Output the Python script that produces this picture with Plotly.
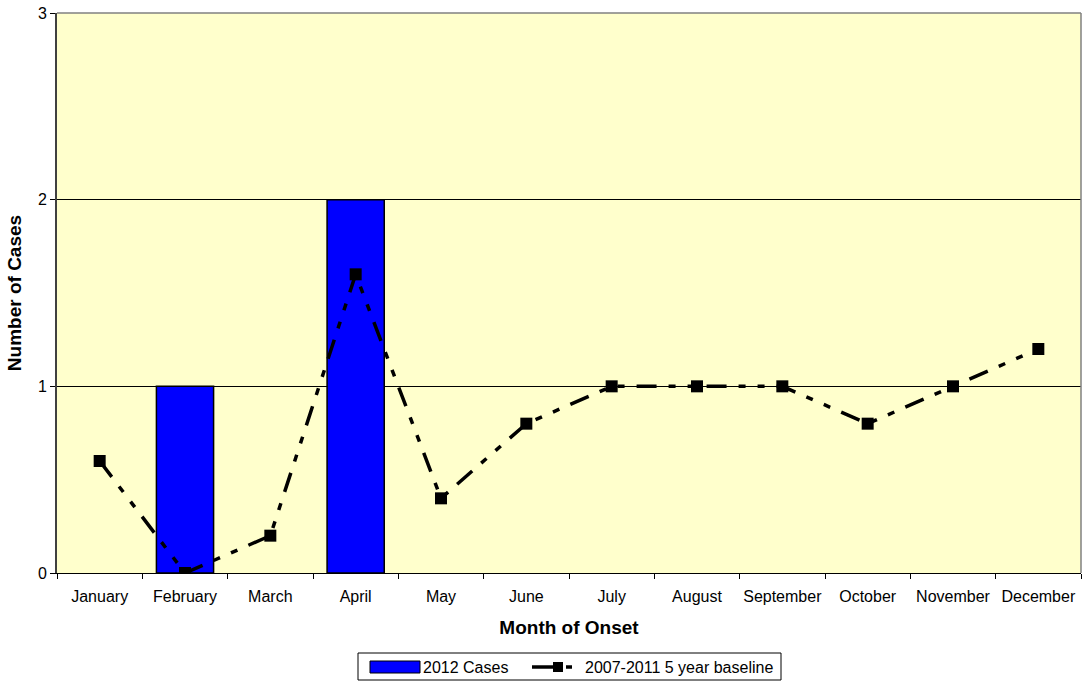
import plotly.graph_objects as go

months = ["January", "February", "March", "April", "May", "June", "July",
          "August", "September", "October", "November", "December"]
cases_2012 = [0, 1, 0, 2, 0, 0, 0, 0, 0, 0, 0, 0]
baseline = [0.6, 0.0, 0.2, 1.6, 0.4, 0.8, 1.0, 1.0, 1.0, 0.8, 1.0, 1.2]

font = "Liberation Sans, Arial, sans-serif"
W, H = 1083, 683
ML, MR, MT, MB = 57, 2, 13, 110
PW, PH = W - ML - MR, H - MT - MB


def px(x):
    return (x - ML) / PW


def py(y):
    return (H - MB - y) / PH


dash = "20px,12px,7px,12px,7px,12px"

fig = go.Figure()
fig.add_trace(go.Bar(
    x=months, y=cases_2012, name="2012 Cases",
    marker=dict(color="#0000FF",
                line=dict(color="#000000",
                          width=[1.5 if v > 0 else 0 for v in cases_2012])),
    width=0.67, showlegend=False,
))
fig.add_trace(go.Scatter(
    x=months, y=baseline, name="2007-2011 5 year baseline",
    mode="lines+markers",
    line=dict(color="#000000", width=3.5, dash=dash),
    marker=dict(symbol="square", size=12, color="#000000"),
    showlegend=False,
))

fig.update_layout(
    width=W, height=H,
    margin=dict(l=ML, r=MR, t=MT, b=MB),
    paper_bgcolor="#FFFFFF",
    plot_bgcolor="#FFFFCC",
    font=dict(family=font, size=16, color="#000000"),
    showlegend=False,
)
fig.update_xaxes(
    type="category", range=[-0.5, 11.5], automargin=False,
    tickangle=0,
    tickson="boundaries", ticks="outside", ticklen=5, tickcolor="#000000",
    ticklabelstandoff=9,
    showline=True, linecolor="#000000", linewidth=1,
    showgrid=False,
    title=dict(text="<b>Month of Onset</b>", font=dict(size=19), standoff=16),
    tickfont=dict(size=16),
)
fig.update_yaxes(
    range=[0, 3], tickvals=[0, 1, 2, 3], ticks="outside", ticklen=5,
    tickcolor="#000000", automargin=False,
    showline=True, linecolor="#404040", linewidth=2,
    showgrid=True, gridcolor="#000000", gridwidth=1,
    zeroline=False,
    title=dict(text="<b>Number of Cases</b>", font=dict(size=19), standoff=11),
    tickfont=dict(size=16),
)

shapes = [
    # grey frame on top and right of the plot area
    dict(type="line", xref="paper", yref="paper", x0=0, x1=1, y0=1, y1=1,
         line=dict(color="#808080", width=1.5)),
    dict(type="line", xref="paper", yref="paper", x0=1, x1=1, y0=0, y1=1,
         line=dict(color="#808080", width=1.5)),
    # legend box
    dict(type="rect", xref="paper", yref="paper",
         x0=px(358), x1=px(781), y0=py(653), y1=py(680),
         line=dict(color="#000000", width=1), fillcolor="#FFFFFF"),
    # bar swatch
    dict(type="rect", xref="paper", yref="paper",
         x0=px(370), x1=px(420), y0=py(661), y1=py(673),
         line=dict(color="#000000", width=1), fillcolor="#0000FF"),
    # line swatch: solid lead, marker, short dash
    dict(type="line", xref="paper", yref="paper",
         x0=px(532), x1=px(556), y0=py(667), y1=py(667),
         line=dict(color="#000000", width=3.5)),
    dict(type="rect", xref="paper", yref="paper",
         x0=px(553), x1=px(563), y0=py(662), y1=py(672),
         line=dict(color="#000000", width=0), fillcolor="#000000"),
    dict(type="line", xref="paper", yref="paper",
         x0=px(566), x1=px(572), y0=py(667), y1=py(667),
         line=dict(color="#000000", width=3.5)),
]
fig.update_layout(shapes=shapes)

legend_font = dict(family=font, size=16, color="#000000")
fig.add_annotation(text="2012 Cases", xref="paper", yref="paper",
                   x=px(421), y=py(667), xanchor="left", yanchor="middle",
                   showarrow=False, font=legend_font)
fig.add_annotation(text="2007-2011 5 year baseline", xref="paper", yref="paper",
                   x=px(583), y=py(667), xanchor="left", yanchor="middle",
                   showarrow=False, font=legend_font)

fig.write_html("out.html")
